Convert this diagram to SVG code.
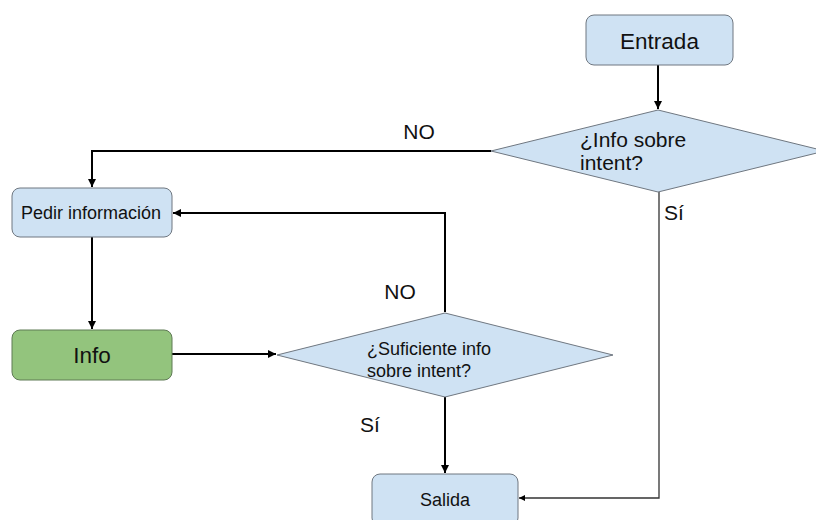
<svg xmlns="http://www.w3.org/2000/svg" width="816" height="520" viewBox="0 0 816 520">
  <defs>
    <marker id="arr" viewBox="0 0 10 10" refX="10" refY="5" markerWidth="8" markerHeight="8" markerUnits="userSpaceOnUse" orient="auto">
      <path d="M0,0 L10,5 L0,10 Z" fill="#000"/>
    </marker>
    <marker id="arr-s" viewBox="0 0 10 10" refX="10" refY="5" markerWidth="7" markerHeight="6" markerUnits="userSpaceOnUse" orient="auto">
      <path d="M0,0 L10,5 L0,10 Z" fill="#000"/>
    </marker>
  </defs>
  <style>
    .box { fill: #cfe2f3; stroke: #6f7780; stroke-width: 1; }
    .green { fill: #93c47d; stroke: #5f7a55; stroke-width: 1; }
    .t { font-family: "Liberation Sans", Arial, sans-serif; fill: #111; }
    .edge { fill: none; stroke: #000; stroke-width: 2; }
    .thin { fill: none; stroke: #333; stroke-width: 1.3; }
  </style>
  <rect width="816" height="520" fill="#fff"/>

  <g id="connectors">
    <path class="edge" d="M658,65 V109" marker-end="url(#arr)"/>
    <path class="edge" d="M491,151 H92 V187" marker-end="url(#arr)"/>
    <path class="edge" d="M445,312 V213 H173" marker-end="url(#arr)"/>
    <path class="edge" d="M92,237 V329" marker-end="url(#arr)"/>
    <path class="edge" d="M172,354 H276" marker-end="url(#arr)"/>
    <path class="edge" d="M445,397 V473" marker-end="url(#arr)"/>
    <path class="thin" d="M659,192 V498 H519" marker-end="url(#arr-s)"/>
  </g>

  <g id="entrada">
    <rect class="box" x="586" y="15" width="147" height="50" rx="8"/>
    <text class="t" x="659.5" y="49" font-size="22.5" text-anchor="middle">Entrada</text>
  </g>

  <g id="info-sobre-intent">
    <polygon class="box" points="658,110 825,151 658,192 491,151"/>
    <text class="t" x="580" y="147" font-size="21">¿Info sobre</text>
    <text class="t" x="580" y="170" font-size="21">intent?</text>
  </g>

  <g id="pedir">
    <rect class="box" x="12" y="188" width="160" height="49" rx="8"/>
    <text class="t" x="91" y="219" font-size="18" text-anchor="middle">Pedir información</text>
  </g>

  <g id="info">
    <rect class="green" x="12" y="330" width="160" height="50" rx="8"/>
    <text class="t" x="92" y="363" font-size="22.5" text-anchor="middle">Info</text>
  </g>

  <g id="suficiente-info">
    <polygon class="box" points="445,313 613,355 445,397 277,355"/>
    <text class="t" x="367" y="355" font-size="18">¿Suficiente info</text>
    <text class="t" x="367" y="377" font-size="18">sobre intent?</text>
  </g>

  <g id="salida">
    <rect class="box" x="372" y="474" width="146" height="52" rx="8"/>
    <text class="t" x="445" y="506" font-size="18" text-anchor="middle">Salida</text>
  </g>

  <g id="labels">
    <text class="t" x="419" y="139" font-size="21" text-anchor="middle">NO</text>
    <text class="t" x="664" y="220" font-size="21">Sí</text>
    <text class="t" x="400" y="299" font-size="21" text-anchor="middle">NO</text>
    <text class="t" x="360" y="432" font-size="21">Sí</text>
  </g>
</svg>
